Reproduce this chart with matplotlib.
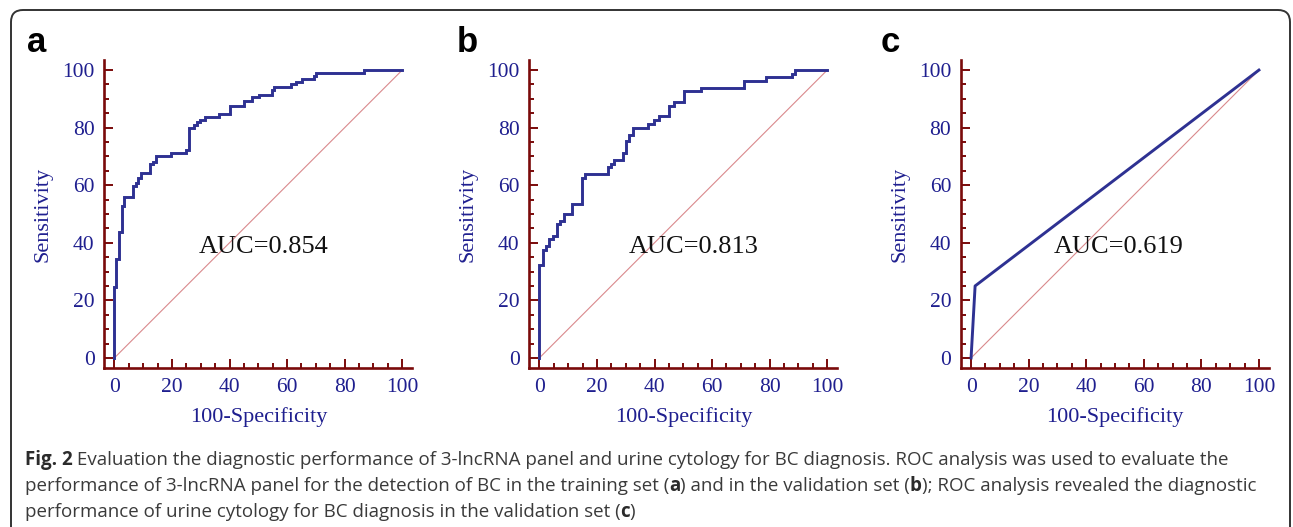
import matplotlib
matplotlib.use('Agg')
import matplotlib.pyplot as plt
from matplotlib.patches import FancyBboxPatch
from matplotlib.transforms import IdentityTransform
from matplotlib.ticker import MultipleLocator

plt.rcParams['font.family'] = 'Liberation Serif'   # 축 글꼴 (Times 계열)

# ROC 곡선 데이터 (100-Specificity, Sensitivity)
a_fpr = [0, 0, 0.7, 1.7, 2.7, 3.5, 6.4, 7.4, 8.3, 9.4, 12.5, 13.3, 14.3, 19.8, 24.9, 25.8,
         27.6, 28.7, 29.7, 31.6, 36.5, 40.1, 45.2, 47.9, 50.2, 54.8, 55.6, 61.4, 63.2, 65.2,
         69.3, 70.1, 86.6, 100]
a_tpr = [0, 24.8, 34.4, 43.9, 52.9, 55.9, 59.7, 60.6, 62.4, 64.2, 67.2, 68.2, 70.1, 71.2, 72.2, 79.9,
         80.8, 81.8, 82.6, 83.7, 84.6, 87.6, 89.4, 90.5, 91.3, 93.0, 94.0, 95.0, 96.0, 97.0,
         98.0, 99.0, 100, 100]

b_fpr = [0, 0, 1.1, 2.2, 3.5, 4.9, 6.0, 7.3, 8.5, 11.3, 14.8, 15.9, 23.8, 25.0, 26.0, 28.9,
         30.1, 31.2, 32.5, 37.7, 39.9, 41.4, 45.1, 46.6, 50.1, 56.3, 71.2, 78.9, 87.6, 88.8, 100]
b_tpr = [0, 32.2, 37.4, 38.8, 41.3, 42.4, 46.5, 47.4, 50.0, 53.6, 62.5, 63.9, 66.3, 67.5, 68.9, 71.2,
         75.2, 77.5, 79.9, 81.3, 82.5, 83.9, 87.6, 88.8, 92.6, 93.8, 96.3, 97.6, 98.7, 100, 100]

c_fpr = [0, 1.4, 100]
c_tpr = [0, 25.0, 100]

panels = ['a', 'b', 'c']
aucs = ['0.854', '0.813', '0.619']
stepped = [True, True, False]
ticks = [0, 20, 40, 60, 80, 100]

# 그림 크기 (1293 x 527 픽셀)
W, H = 1293, 527
fig = plt.figure(figsize=(W / 100, H / 100), dpi=100)

# 바깥 테두리 (둥근 사각형)
border = FancyBboxPatch((11, -30), 1279, H - 10 + 30, boxstyle='round,pad=0,rounding_size=12',
                        transform=IdentityTransform(), facecolor='none', edgecolor='#333333', lw=1.4)
fig.add_artist(border)

navy = '#1f1f8f'
maroon = '#7a0a0a'
curve_col = '#2e3192'

lefts = [104.3, 529.3, 961]
auc_x = [51.8, 53.7, 51.4]
letter_x = [27, 457, 881]
curves = [(a_fpr, a_tpr), (b_fpr, b_tpr), (c_fpr, c_tpr)]

for i in range(3):
    ax = fig.add_axes([lefts[i] / W, (H - 368) / H, 308 / W, 308 / H])
    x, y = curves[i]
    ax.plot([0, 100], [0, 100], color='#d9898c', lw=0.8)       # 대각선 (기준선)
    if stepped[i]:
        ax.plot(x, y, color=curve_col, lw=2.1, drawstyle='steps-post', solid_joinstyle='miter')
    else:
        ax.plot(x, y, color=curve_col, lw=2.1)
    ax.set_xlim(-3.5, 103.5)
    ax.set_ylim(-3.5, 103.5)
    ax.spines['top'].set_visible(False)
    ax.spines['right'].set_visible(False)
    for s in ['left', 'bottom']:
        ax.spines[s].set_color(maroon)
        ax.spines[s].set_linewidth(1.9)
    ax.set_xticks(ticks)
    ax.set_yticks(ticks)
    ax.xaxis.set_minor_locator(MultipleLocator(5))
    ax.yaxis.set_minor_locator(MultipleLocator(5))
    ax.tick_params(which='major', direction='in', length=6.5, width=1.4, color=maroon,
                   labelcolor=navy, labelsize=15.5, pad=7)
    ax.tick_params(which='minor', direction='in', length=3.5, width=1.4, color=maroon)
    ax.set_xlabel('100-Specificity', color=navy, fontsize=16)
    ax.set_ylabel('Sensitivity', color=navy, fontsize=16)
    ax.xaxis.set_label_coords(0.5, -0.128)
    ax.yaxis.set_label_coords(-0.167, 0.5)
    ax.patch.set_alpha(0)
    ax.text(auc_x[i], 38.5, 'AUC=' + aucs[i], ha='center', va='center', fontsize=19,
            color='#111111')
    fig.text(letter_x[i] / W, (H - 52) / H, panels[i], fontsize=25, fontweight='bold',
             family='Liberation Sans', color='black', va='baseline')

# 캡션
cap_lines = [
    [('Fig. 2', 'bold'), (' Evaluation the diagnostic performance of 3-lncRNA panel and urine cytology for BC diagnosis. ROC analysis was used to evaluate the', 'normal')],
    [('performance of 3-lncRNA panel for the detection of BC in the training set (', 'normal'), ('a', 'bold'),
     (') and in the validation set (', 'normal'), ('b', 'bold'), ('); ROC analysis revealed the diagnostic', 'normal')],
    [('performance of urine cytology for BC diagnosis in the validation set (', 'normal'), ('c', 'bold'), (')', 'normal')],
]
cap_base = [464.7, 491.3, 517.3]
cap_x0 = 24.5
renderer = fig.canvas.get_renderer()


def draw_line(segs, yb, size, draw=True):
    xpos = cap_x0
    for txt, wt in segs:
        t = fig.text(xpos / W, (H - yb) / H, txt, fontsize=size, fontweight=wt, family='Open Sans',
                     color='#2b2b2b' if wt == 'bold' else '#3a3a3a', va='baseline')
        xpos += t.get_window_extent(renderer).width
        if not draw:
            t.remove()
    return xpos - cap_x0


# 첫 줄 폭(약 1208 px)에 맞게 글자 크기 조정
w1 = draw_line(cap_lines[0], cap_base[0], 11, draw=False)
cap_size = 11 * 1208 / w1
for segs, yb in zip(cap_lines, cap_base):
    draw_line(segs, yb, cap_size)

fig.savefig('out.png', dpi=100)
